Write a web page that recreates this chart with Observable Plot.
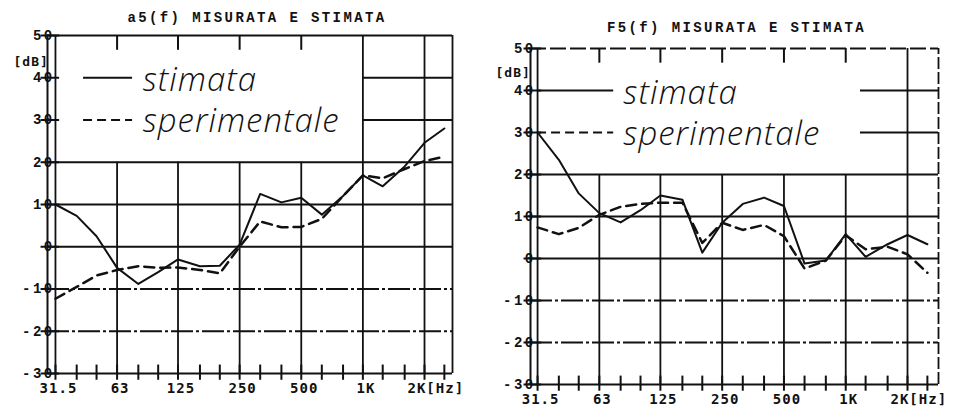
<!DOCTYPE html>
<html>
<head>
<meta charset="utf-8">
<script src="https://cdn.jsdelivr.net/npm/d3@7"></script>
<script src="https://cdn.jsdelivr.net/npm/@observablehq/plot@0.6"></script>
<style>
  html, body { margin: 0; padding: 0; background: #fff; }
  #wrap { position: relative; width: 963px; height: 419px; overflow: hidden; background: #fff; }
  .panel { position: absolute; top: 0; }
  g[font-family*="Liberation Mono"] { letter-spacing: 2.4px; }
  g[font-family*="DejaVu Sans Mono"] { letter-spacing: 1px; }
  g[font-family*="Open Sans"] { letter-spacing: 1px; }
</style>
</head>
<body>
<div id="wrap"></div>
<script>
// third-octave band centres (Hz)
const freqs = [31.5, 40, 50, 63, 80, 100, 125, 160, 200, 250, 315, 400, 500, 630, 800, 1000, 1250, 1600, 2000, 2500];

// a5(f) panel
const a5Stimata      = [10, 7.3, 2.5, -5, -8.8, -6, -3, -4.6, -4.5, 0.5, 12.5, 10.5, 11.6, 7.6, 12, 16.9, 14.3, 19, 24.6, 28];
const a5Sperimentale = [-12.3, -9.5, -6.8, -5.5, -4.6, -5, -4.9, -5.5, -6.3, 0, 6, 4.6, 4.7, 6.6, 12, 16.9, 16.2, 18.4, 20.3, 21.3];

// F5(f) panel
const f5Stimata      = [30, 23.5, 15.5, 10.8, 8.6, 11.5, 15, 14, 1.4, 8.5, 13, 14.5, 12.5, -1.2, -0.5, 5.8, 0.4, 3.4, 5.6, 3.4];
const f5Sperimentale = [7.4, 5.8, 7.3, 10.4, 12.3, 13, 13.3, 13.3, 3.7, 8.5, 6.8, 8, 5.3, -2.4, -0.5, 5.5, 2.2, 2.8, 1.0, -3.4];

// axes
const octaveTicks  = [31.5, 63, 125, 250, 500, 1000, 2000];
const octaveLabels = ["31.5", "63", "125", "250", "500", "1K", "2K[Hz]"];
const yTicks = [50, 40, 30, 20, 10, 0, -10, -20, -30];
const seriesNames = ["stimata", "sperimentale"];

const panels = [
  {title: "a5(f) MISURATA E STIMATA", stim: a5Stimata, sper: a5Sperimentale,
   left: 0, width: 481, mL: 47, mR: 29, mT: 35, mB: 46, xmin: 28.8, xmax: 2740,
   fullV: [1000, 2000], partV: [63, 125, 250, 500], topFrom: 1000,
   legA: 43.2, legB: 75, legText: 84, titleDx: 7, titleDy: -18,
   dbDx: -34, dbDy: 26, yLabDx: 7, xLabDy: 15, dashedEdges: false},
  {title: "F5(f) MISURATA E STIMATA", stim: f5Stimata, sper: f5Sperimentale,
   left: 481, width: 482, mL: 49, mR: 25, mT: 48, mB: 35, xmin: 29.1, xmax: 2832,
   fullV: [2000], partV: [63, 125, 250, 500, 1000], topFrom: 1180,
   legA: 31.5, legB: 74, legText: 82.5, titleDx: 2, titleDy: -21,
   dbDx: -35, dbDy: 24, yLabDx: 5, xLabDy: 15, dashedEdges: true}
];

const mono = "DejaVu Sans Mono";
const mono2 = "Liberation Mono";
const ink = "#111";

function makePanel(p) {
  const rows = freqs.map((f, i) => ({f, stimata: p.stim[i], sperimentale: p.sper[i]}));
  const gridW = 1.8;
  return Plot.plot({
    width: p.width, height: 419,
    marginLeft: p.mL, marginRight: p.mR, marginTop: p.mT, marginBottom: p.mB,
    x: {type: "log", domain: [p.xmin, p.xmax], axis: null},
    y: {domain: [-30, 50], axis: null},
    style: {background: "transparent", overflow: "visible", fontFamily: mono},
    marks: [
      // horizontal grid
      Plot.ruleY([20, 10, 0], {x1: p.xmin, x2: p.xmax, stroke: ink, strokeWidth: gridW}),
      Plot.ruleY([-10, -20], {x1: p.xmin, x2: p.xmax, stroke: ink, strokeWidth: gridW, strokeDasharray: "22,3,3,3"}),
      Plot.ruleY([40, 30], {x1: p.topFrom, x2: p.xmax, stroke: ink, strokeWidth: gridW}),
      // y tick stubs
      Plot.ruleY(yTicks, {x1: p.xmin * 0.93, x2: 33, stroke: ink, strokeWidth: 2}),
      // vertical grid
      Plot.ruleX(p.partV, {y1: -30, y2: 20, stroke: ink, strokeWidth: gridW}),
      Plot.ruleX(p.partV, {y1: 46.5, y2: 50, stroke: ink, strokeWidth: 2}),
      Plot.ruleX(p.fullV, {y1: -30, y2: 50, stroke: ink, strokeWidth: gridW}),
      Plot.ruleX([31.5], {y1: -30, y2: 50, stroke: ink, strokeWidth: gridW}),
      // frame
      Plot.ruleX([p.xmin], {y1: -30, y2: 50, stroke: ink, strokeWidth: 2}),
      Plot.ruleX([p.xmax], {y1: -30, y2: 50, stroke: ink, strokeWidth: gridW, strokeDasharray: p.dashedEdges ? "12,3" : null}),
      Plot.ruleY([50], {x1: p.xmin, x2: p.xmax, stroke: ink, strokeWidth: gridW, strokeDasharray: p.dashedEdges ? "16,4" : null}),
      Plot.ruleY([-30], {x1: p.xmin, x2: p.xmax, stroke: ink, strokeWidth: 2}),
      // third-octave ticks on the bottom axis
      Plot.ruleX(freqs, {y1: -31.6, y2: -28, stroke: ink, strokeWidth: 2}),
      // data
      Plot.line(rows, {x: "f", y: "stimata", stroke: ink, strokeWidth: 2}),
      Plot.line(rows, {x: "f", y: "sperimentale", stroke: ink, strokeWidth: 2.5, strokeDasharray: "10,6"}),
      // legend
      Plot.ruleY([40], {x1: p.legA, x2: p.legB, stroke: ink, strokeWidth: 2.2}),
      Plot.ruleY([30], {x1: p.legA, x2: p.legB, stroke: ink, strokeWidth: 2.2, strokeDasharray: "9,5"}),
      Plot.text([seriesNames[0]], {x: p.legText, y: 40, text: d => d, textAnchor: "start", lineAnchor: "bottom", dy: 13,
        fontFamily: "Open Sans", fontStyle: "italic", fontWeight: 300, fontSize: 33, fill: ink}),
      Plot.text([seriesNames[1]], {x: p.legText, y: 30, text: d => d, textAnchor: "start", lineAnchor: "bottom", dy: 12,
        fontFamily: "Open Sans", fontStyle: "italic", fontWeight: 300, fontSize: 33, fill: ink}),
      // y labels
      Plot.text(yTicks, {x: p.xmin, y: d => d, text: d => String(d), textAnchor: "end", dx: p.yLabDx,
        fontFamily: mono2, fontWeight: "bold", fontSize: 14, fill: ink}),
      Plot.text(["[dB]"], {frameAnchor: "top-left", dx: p.dbDx, dy: p.dbDy, textAnchor: "start", lineAnchor: "middle",
        fontFamily: mono, fontWeight: "bold", fontSize: 13, fill: ink}),
      // x labels
      Plot.text(octaveTicks.slice(0, -1), {x: d => d, y: -30, text: (d, i) => octaveLabels[i], dy: p.xLabDy, dx: 3,
        fontFamily: mono, fontWeight: "bold", fontSize: 14, fill: ink}),
      Plot.text(octaveTicks.slice(-1), {x: d => d, y: -30, text: () => octaveLabels[octaveLabels.length - 1], dy: p.xLabDy,
        dx: -17, textAnchor: "start", fontFamily: mono, fontWeight: "bold", fontSize: 14, fill: ink}),
      // title
      Plot.text([p.title], {frameAnchor: "top", dx: p.titleDx, dy: p.titleDy, lineAnchor: "middle",
        fontFamily: mono2, fontWeight: "bold", fontSize: 14, fill: ink})
    ]
  });
}

const wrap = document.getElementById("wrap");
for (const p of panels) {
  const svg = makePanel(p);
  svg.classList.add("panel");
  svg.style.left = p.left + "px";
  wrap.appendChild(svg);
}
</script>
</body>
</html>
